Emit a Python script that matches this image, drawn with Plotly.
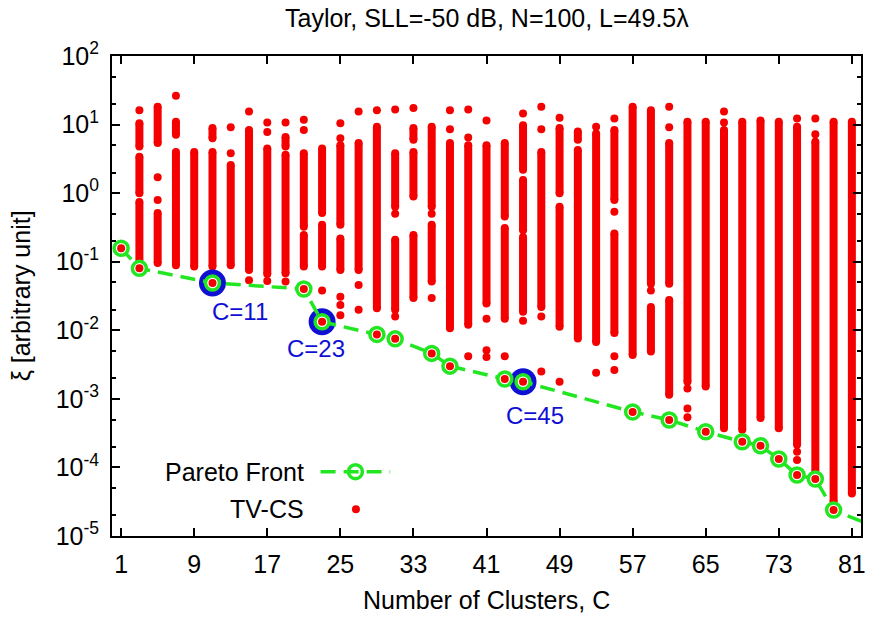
import math
import plotly.graph_objects as go

# ---------------- data ----------------
title_text = "Taylor, SLL=-50 dB, N=100, L=49.5λ"
x_title = "Number of Clusters, C"
y_title = "ξ [arbitrary unit]"
x_tick_vals = [1, 9, 17, 25, 33, 41, 49, 57, 65, 73, 81]
y_tick_exponents = [-5, -4, -3, -2, -1, 0, 1, 2]

# Pareto front (C, xi)
pareto_C = [1, 3, 11, 21, 23, 29, 31, 35, 37, 43, 45, 57, 61, 65, 69, 71, 73, 75, 77, 79, 83]
pareto_xi = [0.157, 0.080, 0.049, 0.040, 0.0133, 0.0087, 0.0075, 0.0046, 0.0030, 0.00195,
             0.00178, 6.45e-4, 4.92e-4, 3.32e-4, 2.37e-4, 2.07e-4, 1.33e-4, 7.76e-5,
             6.78e-5, 2.39e-5, 1.45e-5]

# highlighted solutions
highlight_C = [11, 23, 45]
highlight_xi = [0.049, 0.0133, 0.00178]
highlight_labels = ["C=11", "C=23", "C=45"]

# TV-CS solutions: per column, dense runs (top, bottom) and isolated points, in log10(xi)
tvcs_C = [3, 5, 7, 9, 11, 13, 15, 17, 19, 21, 23, 25, 27, 29, 31, 33, 35, 37, 39, 41,
          43, 45, 47, 49, 51, 53, 55, 57, 59, 61, 63, 65, 67, 69, 71, 73, 75, 77, 79, 81]
tvcs_runs_log10 = [
    [(1.02, 0.68), (0.53, 0.00), (-0.13, -1.07)],        # 3
    [(1.26, 0.73), (-0.29, -1.02)],                      # 5
    [(1.04, 0.85), (0.60, -1.05)],                       # 7
    [(0.60, -1.07)],                                     # 9
    [(0.95, 0.80), (0.60, -1.07)],                       # 11
    [(0.41, -1.05)],                                     # 13
    [(0.92, -1.12)],                                     # 15
    [(0.65, -1.18)],                                     # 17
    [(0.82, 0.68), (0.56, -1.17)],                       # 19
    [(0.58, -0.49), (-0.61, -1.07)],                     # 21
    [(0.65, -0.29), (-0.46, -1.07)],                     # 23
    [(0.70, -0.46), (-0.66, -1.12)],                     # 25
    [(0.73, -1.12)],                                     # 27
    [(0.97, -1.68)],                                     # 29
    [(0.58, -0.20), (-0.68, -1.70)],                     # 31
    [(0.95, 0.78), (0.60, -0.05), (-0.61, -1.53)],       # 33
    [(0.97, -0.20), (-0.46, -1.29)],                     # 35
    [(0.73, -1.97)],                                     # 37
    [(0.70, -1.92)],                                     # 39
    [(0.70, -1.61)],                                     # 41
    [(0.73, -0.34), (-0.51, -1.83)],                     # 43
    [(0.99, 0.34), (0.19, -0.54), (-0.64, -1.73)],       # 45
    [(0.60, -1.66)],                                     # 47
    [(0.95, 0.00), (-0.20, -1.95)],                      # 49
    [(0.90, 0.78), (0.63, -2.12)],                       # 51
    [(0.87, -2.17)],                                     # 53
    [(0.92, -0.10), (-0.59, -2.04)],                     # 55
    [(1.26, -2.36)],                                     # 57
    [(1.21, -1.32), (-1.66, -2.31)],                     # 59
    [(0.73, -1.32), (-1.56, -2.94)],                     # 61
    [(1.04, -2.75)],                                     # 63
    [(1.04, -2.82)],                                     # 65
    [(0.92, -3.43)],                                     # 67
    [(1.04, -3.45)],                                     # 69
    [(1.06, -3.28)],                                     # 71
    [(1.04, -3.43)],                                     # 73
    [(0.97, -3.67)],                                     # 75
    [(0.75, -4.09)],                                     # 77
    [(1.04, -4.50)],                                     # 79
    [(1.04, -4.38)],                                     # 81
]
tvcs_isolated_log10 = [
    [1.21], [0.23, -0.10], [1.42], [], [], [0.96, 0.58], [1.19, -1.27], [1.03, 0.89, -1.28],
    [1.03, -1.29], [1.07, 0.92], [-1.42], [1.02, 0.80, -1.51, -1.63, -1.78], [1.19, -1.34, -1.70],
    [1.21], [1.22, -0.30, -1.80], [1.24], [-0.30, -1.53], [1.21, 0.93], [1.22, 0.81, -2.38],
    [1.06, -1.83, -2.29, -2.39], [-2.38], [1.16, -1.86], [1.26, 0.93, -1.80, -2.60], [1.10, -2.75],
    [], [0.97, -2.62], [1.09, -0.27, -2.38, -2.58], [], [-1.42], [1.26, 0.96],
    [-2.85, -3.14, -3.27], [], [1.19, 1.03], [], [], [], [1.09, -3.77, -3.89], [1.09, 0.86], [], [],
]

# ---------------- styles ----------------
RED = "#f40000"
GREEN = "#22e622"
BLUE = "#1010d4"
FONT = "Liberation Sans, Arial, Helvetica, sans-serif"
FS = 25
FS_LABEL = 24

run_x, run_y, dot_x, dot_y = [], [], [], []
for c, runs, iso in zip(tvcs_C, tvcs_runs_log10, tvcs_isolated_log10):
    for hi, lo in runs:
        run_x += [c, c, None]
        run_y += [10 ** hi, 10 ** lo, None]
        dot_x += [c, c]
        dot_y += [10 ** hi, 10 ** lo]
    for v in iso:
        dot_x.append(c)
        dot_y.append(10 ** v)

fig = go.Figure()
fig.add_trace(go.Scatter(x=run_x, y=run_y, mode="lines",
                         line=dict(color=RED, width=8), hoverinfo="skip"))
fig.add_trace(go.Scatter(x=dot_x, y=dot_y, mode="markers",
                         marker=dict(color=RED, size=8, line=dict(width=0))))
fig.add_trace(go.Scatter(x=highlight_C, y=highlight_xi, mode="markers",
                         marker=dict(color=BLUE, size=27, line=dict(width=0))))
fig.add_trace(go.Scatter(x=pareto_C, y=pareto_xi, mode="lines+markers",
                         line=dict(color=GREEN, width=3.5, dash="15px,8px"),
                         marker=dict(symbol="circle", size=14, color="white",
                                     line=dict(color=GREEN, width=3.5))))
fig.add_trace(go.Scatter(x=pareto_C, y=pareto_xi, mode="markers",
                         marker=dict(color=RED, size=8, line=dict(width=0))))

# key drawn inside the plot (gnuplot style, text left of sample)
fig.add_trace(go.Scatter(x=[0.2785, 0.3714], y=[0.134, 0.134], mode="lines",
                         line=dict(color=GREEN, width=3.5, dash="15px,8px"),
                         xaxis="x2", yaxis="y2"))
fig.add_trace(go.Scatter(x=[0.325], y=[0.134], mode="markers",
                         marker=dict(symbol="circle-open", size=14, color=GREEN,
                                     line=dict(color=GREEN, width=3.5)),
                         xaxis="x2", yaxis="y2"))
fig.add_trace(go.Scatter(x=[0.3257], y=[0.0556], mode="markers",
                         marker=dict(color=RED, size=8), xaxis="x2", yaxis="y2"))

annotations = [
    dict(text=title_text, xref="paper", yref="paper", x=0.5, y=1.079,
         xanchor="center", yanchor="middle", showarrow=False, font=dict(size=FS)),
    dict(text=x_title, xref="paper", yref="paper", x=0.5, y=-0.1333,
         xanchor="center", yanchor="middle", showarrow=False, font=dict(size=FS)),
    dict(text=y_title, xref="paper", yref="paper", x=-0.121, y=0.5, textangle=-90,
         xanchor="center", yanchor="middle", showarrow=False, font=dict(size=FS)),
    dict(text="Pareto Front", xref="paper", yref="paper", x=0.2586, y=0.134,
         xanchor="right", yanchor="middle", showarrow=False, font=dict(size=FS)),
    dict(text="TV-CS", xref="paper", yref="paper", x=0.2586, y=0.0556,
         xanchor="right", yanchor="middle", showarrow=False, font=dict(size=FS)),
]
label_shift = [(28, -29), (-6, -27), (12, -34)]
for c, v, lab, (dx, dy) in zip(highlight_C, highlight_xi, highlight_labels, label_shift):
    annotations.append(dict(text=lab, x=c, y=math.log10(v), xref="x", yref="y",
                            xshift=dx, yshift=dy, showarrow=False,
                            xanchor="center", yanchor="middle",
                            font=dict(size=FS_LABEL, color=BLUE)))

axis_common = dict(showline=True, linewidth=2, linecolor="black", mirror="allticks",
                   ticks="inside", ticklen=8, tickwidth=1.5, tickcolor="black",
                   showgrid=False, zeroline=False, tickfont=dict(size=FS, color="black"))

minor_vals = [m * 10.0 ** e for e in y_tick_exponents[:-1] for m in (2, 5)]

fig.update_layout(
    width=873, height=617,
    margin=dict(l=112, r=7, t=56, b=81, pad=0),
    paper_bgcolor="white", plot_bgcolor="white",
    showlegend=False,
    font=dict(family=FONT, size=FS, color="black"),
    annotations=annotations,
    xaxis=dict(range=[0, 82], tickmode="array", tickvals=x_tick_vals,
               ticklabelstandoff=5, **axis_common),
    yaxis=dict(type="log", range=[-5, 2], tickmode="array",
               tickvals=[10.0 ** e for e in y_tick_exponents],
               ticktext=["10<sup>%d</sup>" % e for e in y_tick_exponents],
               minor=dict(tickmode="array", tickvals=minor_vals, ticks="inside",
                          ticklen=4, tickwidth=1.5, tickcolor="black", showgrid=False),
               ticklabelstandoff=6, **axis_common),
    xaxis2=dict(overlaying="x", range=[0, 1], visible=False, anchor="y2", fixedrange=True),
    yaxis2=dict(overlaying="y", range=[0, 1], visible=False, anchor="x2", fixedrange=True),
)

fig.write_html("out.html")
